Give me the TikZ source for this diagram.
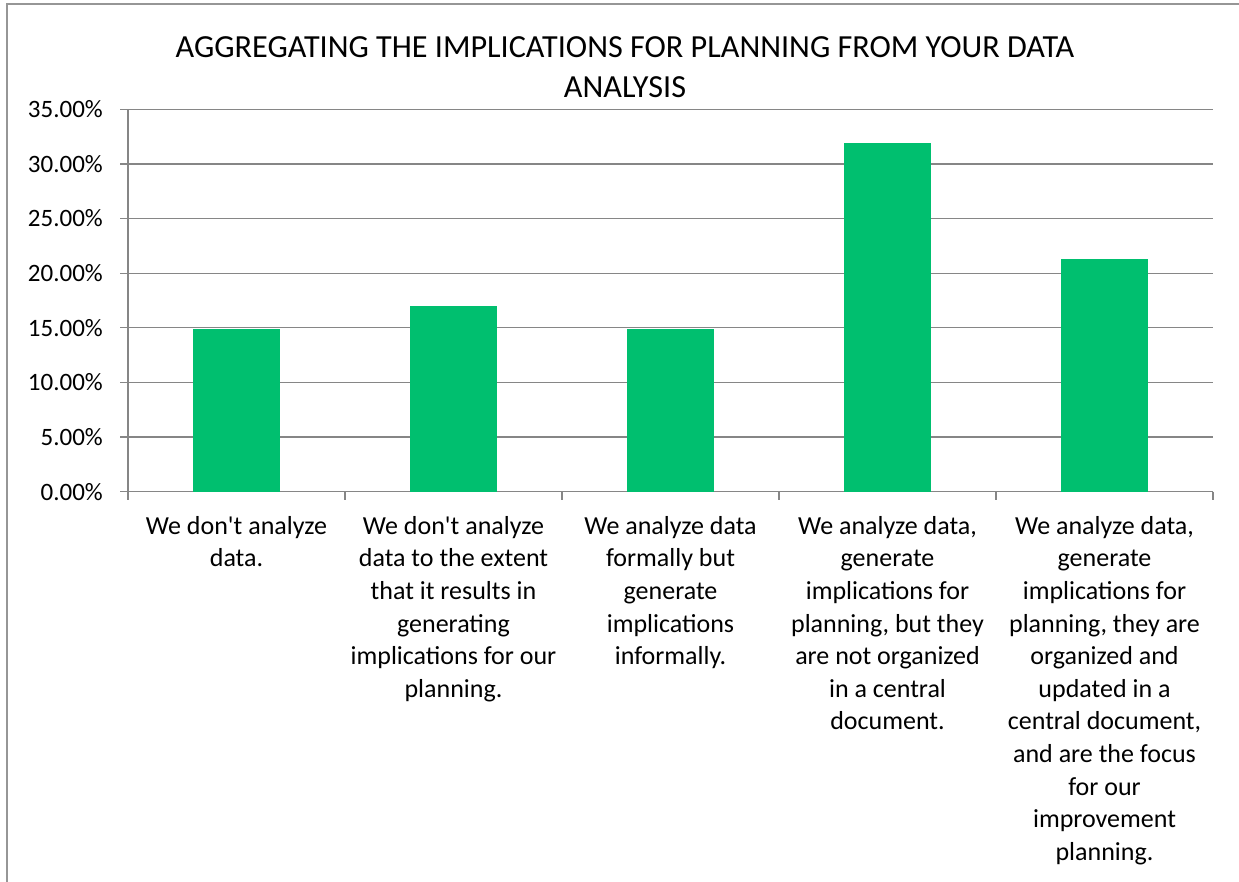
\documentclass[tikz,border=0pt]{standalone}
\usepackage{fontspec}
\setmainfont{Carlito}
\definecolor{barcol}{RGB}{0,191,111}
\definecolor{gridcol}{RGB}{134,134,134}
\definecolor{framecol}{RGB}{150,150,150}
\tikzset{
  gridline/.style={draw=gridcol, line width=1.3pt},
  barbox/.style={fill=barcol, draw=none, minimum width=87pt, inner sep=0pt, anchor=south},
  ylab/.style={anchor=east, inner sep=0pt, font=\fontsize{25}{30}\selectfont},
  catlab/.style={anchor=north, inner sep=0pt, align=center, font=\fontsize{26}{32.6}\selectfont},
  titlelab/.style={anchor=north, inner sep=0pt, align=center, font=\fontsize{32.2}{40}\selectfont}
}
\begin{document}
\begin{tikzpicture}[x=1pt,y=-1pt]
\useasboundingbox (0,0) rectangle (1239,882);
\fill[white] (0,0) rectangle (1239,882);
% outer frame
\coordinate (fbl) at (7,882);
\coordinate (ftl) at (7,4);
\coordinate (ftr) at (1239,4);
\draw[framecol, line width=1.5pt] (fbl) -- (ftl) -- (ftr);
% title
\node[titlelab] (title) at (625,36) {AGGREGATING THE IMPLICATIONS FOR PLANNING FROM YOUR DATA\\ANALYSIS};
% gridlines and y labels
\foreach \i/\lab in {0/0.00,1/5.00,2/10.00,3/15.00,4/20.00,5/25.00,6/30.00,7/35.00}{
  \pgfmathsetmacro{\yy}{491.7-54.63*\i}
  \coordinate (gl\i) at (120,\yy);
  \coordinate (gr\i) at (1213,\yy);
  \draw[gridline] (gl\i) -- (gr\i);
  \node[ylab] (yl\i) at (103,\yy) {\lab\%};
}
% y axis
\coordinate (yaxtop) at (128,109.3);
\coordinate (yaxbot) at (128,491.7);
\draw[gridline] (yaxtop) -- (yaxbot);
% category ticks
\foreach \k in {0,...,5}{
  \pgfmathsetmacro{\xx}{128+217*\k}
  \coordinate (ta\k) at (\xx,491.7);
  \coordinate (tb\k) at (\xx,500);
  \draw[gridline] (ta\k) -- (tb\k);
}
% bars
\foreach \k/\v in {1/14.89,2/17.02,3/14.89,4/31.91,5/21.28}{
  \pgfmathsetmacro{\xx}{128+217*\k-108.5}
  \pgfmathsetmacro{\hh}{\v*10.926}
  \node[barbox, minimum height=\hh pt] (bar\k) at (\xx,491.7) {};
}
% category labels
\node[catlab] (c1) at (236.5,516) {We don\textquotesingle t analyze\\data.};
\node[catlab] (c2) at (453.5,516) {We don\textquotesingle t analyze\\data to the extent\\that it results in\\generating\\implications for our\\planning.};
\node[catlab] (c3) at (670.5,516) {We analyze data\\formally but\\generate\\implications\\informally.};
\node[catlab] (c4) at (887.5,516) {We analyze data,\\generate\\implications for\\planning, but they\\are not organized\\in a central\\document.};
\node[catlab] (c5) at (1104.5,516) {We analyze data,\\generate\\implications for\\planning, they are\\organized and\\updated in a\\central document,\\and are the focus\\for our\\improvement\\planning.};
\end{tikzpicture}
\end{document}
